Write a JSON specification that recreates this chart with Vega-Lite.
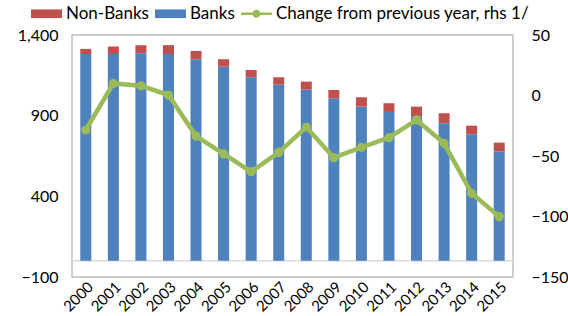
{
  "$schema": "https://vega.github.io/schema/vega-lite/v6.json",
  "autosize": {"type": "none"},
  "width": 441,
  "height": 242,
  "padding": {"left": 72, "top": 35, "right": 55, "bottom": 39},
  "background": "white",
  "config": {
    "font": "Lato",
    "view": {"stroke": "#bfbfbf", "strokeWidth": 1.5},
    "axis": {"labelFontSize": 16, "labelColor": "#000000", "labelFont": "Lato"}
  },
  "datasets": {
    "bars": [
      {"year": "2000", "series": "Banks", "value": 1282}, {"year": "2000", "series": "Non-Banks", "value": 32},
      {"year": "2001", "series": "Banks", "value": 1282}, {"year": "2001", "series": "Non-Banks", "value": 46},
      {"year": "2002", "series": "Banks", "value": 1287}, {"year": "2002", "series": "Non-Banks", "value": 50},
      {"year": "2003", "series": "Banks", "value": 1282}, {"year": "2003", "series": "Non-Banks", "value": 55},
      {"year": "2004", "series": "Banks", "value": 1250}, {"year": "2004", "series": "Non-Banks", "value": 51},
      {"year": "2005", "series": "Banks", "value": 1204}, {"year": "2005", "series": "Non-Banks", "value": 46},
      {"year": "2006", "series": "Banks", "value": 1138}, {"year": "2006", "series": "Non-Banks", "value": 45},
      {"year": "2007", "series": "Banks", "value": 1092}, {"year": "2007", "series": "Non-Banks", "value": 46},
      {"year": "2008", "series": "Banks", "value": 1061}, {"year": "2008", "series": "Non-Banks", "value": 50},
      {"year": "2009", "series": "Banks", "value": 1008}, {"year": "2009", "series": "Non-Banks", "value": 51},
      {"year": "2010", "series": "Banks", "value": 956}, {"year": "2010", "series": "Non-Banks", "value": 58},
      {"year": "2011", "series": "Banks", "value": 923}, {"year": "2011", "series": "Non-Banks", "value": 54},
      {"year": "2012", "series": "Banks", "value": 896}, {"year": "2012", "series": "Non-Banks", "value": 60},
      {"year": "2013", "series": "Banks", "value": 853}, {"year": "2013", "series": "Non-Banks", "value": 62},
      {"year": "2014", "series": "Banks", "value": 785}, {"year": "2014", "series": "Non-Banks", "value": 53},
      {"year": "2015", "series": "Banks", "value": 680}, {"year": "2015", "series": "Non-Banks", "value": 53}
    ],
    "change": [
      {"year": "2000", "series": "Change from previous year, rhs 1/", "change": -28.5},
      {"year": "2001", "series": "Change from previous year, rhs 1/", "change": 10},
      {"year": "2002", "series": "Change from previous year, rhs 1/", "change": 8},
      {"year": "2003", "series": "Change from previous year, rhs 1/", "change": 0.4},
      {"year": "2004", "series": "Change from previous year, rhs 1/", "change": -33.5},
      {"year": "2005", "series": "Change from previous year, rhs 1/", "change": -48.3},
      {"year": "2006", "series": "Change from previous year, rhs 1/", "change": -63},
      {"year": "2007", "series": "Change from previous year, rhs 1/", "change": -47},
      {"year": "2008", "series": "Change from previous year, rhs 1/", "change": -26.2},
      {"year": "2009", "series": "Change from previous year, rhs 1/", "change": -51.4},
      {"year": "2010", "series": "Change from previous year, rhs 1/", "change": -42.8},
      {"year": "2011", "series": "Change from previous year, rhs 1/", "change": -34.9},
      {"year": "2012", "series": "Change from previous year, rhs 1/", "change": -20.2},
      {"year": "2013", "series": "Change from previous year, rhs 1/", "change": -39.5},
      {"year": "2014", "series": "Change from previous year, rhs 1/", "change": -80.8},
      {"year": "2015", "series": "Change from previous year, rhs 1/", "change": -100.1}
    ]
  },
  "encoding": {
    "x": {
      "field": "year", "type": "ordinal",
      "scale": {"paddingInner": 0.6, "paddingOuter": 0.3},
      "axis": {"title": null, "labelAngle": -45, "labelFontSize": 15, "domain": false, "ticks": false, "labelPadding": 2}
    }
  },
  "layer": [
    {
      "layer": [
        {
          "data": {"values": [{"z": 0}]},
          "mark": {"type": "rule", "color": "#d9d9d9", "strokeWidth": 1.5},
          "encoding": {"x": null, "y": {"datum": 0, "type": "quantitative"}}
        },
        {
          "data": {"name": "bars"},
          "mark": {"type": "bar"},
          "encoding": {
            "y": {
              "field": "value", "type": "quantitative", "aggregate": "sum", "stack": "zero",
              "scale": {"domain": [-100, 1400], "nice": false, "zero": false},
              "axis": {"title": null, "orient": "left", "values": [-100, 400, 900, 1400], "format": ",.0f", "domain": false, "ticks": false, "grid": false, "labelPadding": 14}
            },
            "color": {
              "field": "series", "type": "nominal",
              "scale": {"domain": ["Non-Banks", "Banks", "Change from previous year, rhs 1/"], "range": ["#c0504d", "#4f81bd", "#9bbb59"]},
              "legend": {
                "title": null, "orient": "none", "direction": "horizontal",
                "legendX": -41, "legendY": -37,
                "labelFontSize": 17, "labelColor": "#000000", "labelFont": "Lato", "labelLimit": 0,
                "symbolSize": 961, "columnPadding": 6, "labelOffset": 4,
                "encode": {
                  "symbols": {
                    "update": {
                      "shape": {"signal": "datum.value === 'Change from previous year, rhs 1/' ? 'M-1,-0.08H1V0.08H-1Z M0.26,0A0.26,0.26,0,1,1,-0.26,0A0.26,0.26,0,1,1,0.26,0Z' : 'M-1,-0.28H1V0.28H-1Z'"},
                      "fill": {"signal": "scale('color', datum.value)"},
                      "strokeWidth": {"value": 0},
                      "opacity": {"value": 1},
                      "fillOpacity": {"value": 1}
                    }
                  }
                }
              }
            },
            "order": {"field": "series", "sort": "ascending"}
          }
        }
      ]
    },
    {
      "data": {"name": "change"},
      "mark": {"type": "line", "strokeWidth": 4.5, "point": {"filled": true, "size": 85}},
      "encoding": {
        "y": {
          "field": "change", "type": "quantitative",
          "scale": {"domain": [-150, 50], "nice": false, "zero": false},
          "axis": {"title": null, "orient": "right", "values": [-150, -100, -50, 0, 50], "domain": false, "ticks": false, "grid": false, "labelPadding": 18}
        },
        "color": {"field": "series", "type": "nominal"}
      }
    }
  ],
  "resolve": {"scale": {"y": "independent"}}
}
